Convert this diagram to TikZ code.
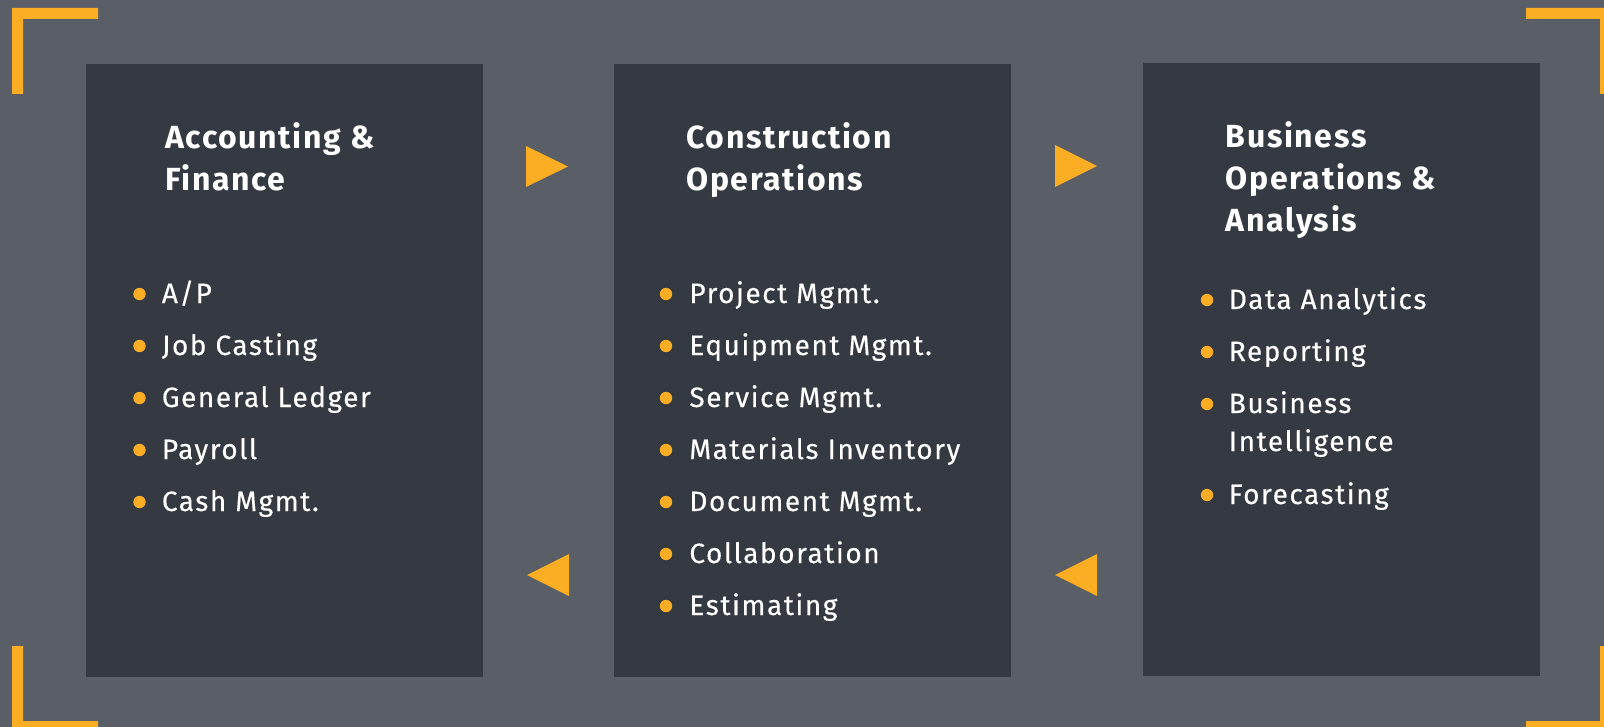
\documentclass[tikz,border=0pt]{standalone}
\usepackage{fontspec}
\setmainfont{Fira Sans}
\newfontfamily\titlefont[LetterSpace=5.0]{Fira Sans}
\newfontfamily\itemfont[LetterSpace=5.5,FakeBold=0.3]{Fira Sans}
\usetikzlibrary{
  positioning,
  calc,         % Calculations $...$
}
\definecolor{bggray}{RGB}{90,94,103}
\definecolor{boxgray}{RGB}{53,57,65}
\definecolor{accent}{RGB}{251,173,36}
\def\myitemdist{52}
\def\mylinedist{38}
\tikzset{
  semithick,
  my box/.style={
    fill=boxgray,
    minimum width=198.5pt,
    minimum height=306.5pt,
    inner sep=0pt,
    rectangle
  },
  % base of a multi-line node = baseline of its last line
  my title/.style={
    anchor=base west,
    align=left,
    inner sep=0pt,
    text=white,
    font=\fontsize{16}{21}\titlefont\bfseries
  },
  my item/.style={
    anchor=base west,
    align=left,
    inner sep=0pt,
    text=white,
    font=\fontsize{14}{19}\itemfont
  },
  my bullet/.style={
    circle,
    fill=accent,
    minimum size=6.2pt,
    inner sep=0pt
  },
  my corner/.style={
    fill=accent
  },
  my marker/.style={
    fill=accent
  }
}

\begin{document}
\begin{tikzpicture}[x=0.5pt,y=-0.5pt]
\useasboundingbox (0,0) rectangle (1604,727);
\clip (0,0) rectangle (1604,727);
\fill[bggray] (0,0) rectangle (1604,727);
% corner brackets
\fill[my corner] (12,8) -- (98,8) -- (98,19) -- (23,19) -- (23,94) -- (12,94) -- cycle;
\fill[my corner] (1611,8) -- (1526,8) -- (1526,19) -- (1600,19) -- (1600,94) -- (1611,94) -- cycle;
\fill[my corner] (12,732) -- (98,732) -- (98,721) -- (23,721) -- (23,646) -- (12,646) -- cycle;
\fill[my corner] (1611,732) -- (1526,732) -- (1526,721) -- (1600,721) -- (1600,646) -- (1611,646) -- cycle;
% boxes
\node[my box] (af) at (284.5,370.5) {};
\node[my box] (co) at (812.5,370.5) {};
\node[my box] (bo) at (1341.5,369.5) {};
% markers between the boxes
\fill[my marker] (526,146) -- (568,166.5) -- (526,187) -- cycle;
\fill[my marker] (1055,145) -- (1097,166) -- (1055,187) -- cycle;
\fill[my marker] (569,554) -- (527,575) -- (569,596) -- cycle;
\fill[my marker] (1097,554) -- (1055,575) -- (1097,596) -- cycle;
% titles
\node[my title] (af title) at (165,191) {Accounting \&\\Finance};
\node[my title] (co title) at (686,191) {Construction\\Operations};
\node[my title] (bo title) at (1225.5,232) {Business\\Operations \&\\Analysis};
% items
\foreach \txt [count=\i] in {{A/P}, Job Casting, General Ledger, Payroll, Cash Mgmt.} {
  \node[my item] (af i\i) at (161.5,{303+\myitemdist*(\i-1)}) {\txt};
  \node[my bullet] (af b\i) at ($(af i\i.base west)+(-22,-9)$) {};
}
\foreach \txt [count=\i] in {Project Mgmt., Equipment Mgmt., Service Mgmt., Materials Inventory,
                             Document Mgmt., Collaboration, Estimating} {
  \node[my item] (co i\i) at (689,{303+\myitemdist*(\i-1)}) {\txt};
  \node[my bullet] (co b\i) at ($(co i\i.base west)+(-23,-9)$) {};
}
\foreach \y/\n/\txt [count=\i] in {309/0/Data Analytics, 361/0/Reporting,
                                   413/1/{Business\\Intelligence}, 504/0/Forecasting} {
  \node[my item] (bo i\i) at (1228.5,{\y+\mylinedist*\n}) {\txt};
  \node[my bullet] (bo b\i) at ($(bo i\i.base west)+(-21.5,{-9-\mylinedist*\n})$) {};
}
\end{tikzpicture}
\end{document}
